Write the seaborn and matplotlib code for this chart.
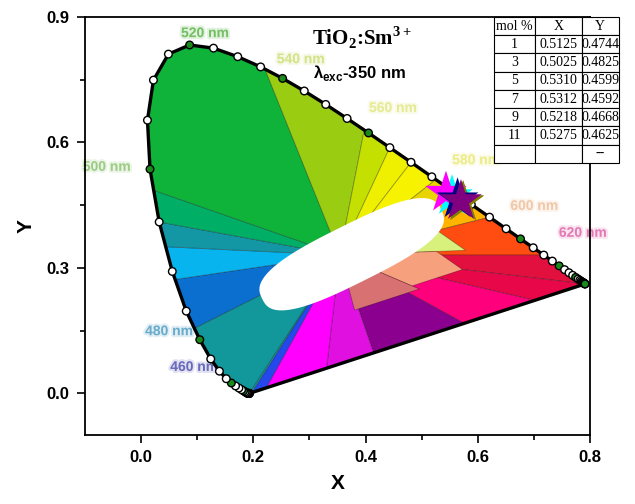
import numpy as np
import pandas as pd
import seaborn as sns
import matplotlib.pyplot as plt
import matplotlib.patheffects as pe
from matplotlib.patches import Polygon
from matplotlib.transforms import ScaledTranslation

# CIE 1931 spectral locus, 380-700 nm in 5 nm steps
wavelengths = np.arange(380, 705, 5)
locus_x = [0.1741, 0.1740, 0.1738, 0.1736, 0.1733, 0.1730, 0.1726, 0.1721, 0.1714, 0.1703,
           0.1689, 0.1669, 0.1644, 0.1611, 0.1566, 0.1510, 0.1440, 0.1355, 0.1241, 0.1096,
           0.0913, 0.0687, 0.0454, 0.0235, 0.0082, 0.0039, 0.0139, 0.0389, 0.0743, 0.1142,
           0.1547, 0.1929, 0.2296, 0.2658, 0.3016, 0.3373, 0.3731, 0.4087, 0.4441, 0.4788,
           0.5125, 0.5448, 0.5752, 0.6029, 0.6270, 0.6482, 0.6658, 0.6801, 0.6915, 0.7006,
           0.7079, 0.7140, 0.7190, 0.7230, 0.7260, 0.7283, 0.7300, 0.7311, 0.7320, 0.7327,
           0.7334, 0.7340, 0.7344, 0.7346, 0.7347]
locus_y = [0.0050, 0.0050, 0.0049, 0.0049, 0.0048, 0.0048, 0.0048, 0.0048, 0.0051, 0.0058,
           0.0069, 0.0086, 0.0109, 0.0138, 0.0177, 0.0227, 0.0297, 0.0399, 0.0578, 0.0868,
           0.1327, 0.2007, 0.2950, 0.4127, 0.5384, 0.6548, 0.7502, 0.8120, 0.8338, 0.8262,
           0.8059, 0.7816, 0.7543, 0.7243, 0.6923, 0.6589, 0.6245, 0.5896, 0.5547, 0.5202,
           0.4866, 0.4544, 0.4242, 0.3965, 0.3725, 0.3514, 0.3340, 0.3197, 0.3083, 0.2993,
           0.2920, 0.2859, 0.2809, 0.2770, 0.2740, 0.2717, 0.2700, 0.2689, 0.2680, 0.2673,
           0.2666, 0.2660, 0.2656, 0.2654, 0.2653]

# samples (table values)
mol = ['1', '3', '5', '7', '9', '11']
cie_x = [0.5125, 0.5025, 0.5310, 0.5312, 0.5218, 0.5275]
cie_y = [0.4744, 0.4825, 0.4599, 0.4592, 0.4668, 0.4625]
star_colors = ['#00ffff', '#ff00ff', '#808000', '#808000', '#000080', '#800080']

# colour sectors, hue h: 380-700 = wavelength, 700-800 = purple line back to 380
fan_center = (0.325, 0.334)
sector_lo = [380, 482, 489, 492.5, 495, 498, 536, 559, 565, 570, 576, 581, 590, 610, 700, 715, 736, 763, 777, 795, 799.3]
sector_hi = [482, 489, 492.5, 495, 498, 536, 559, 565, 570, 576, 581, 590, 610, 700, 715, 736, 763, 777, 795, 799.3, 800]
sector_colors = ['#12979a', '#0a6fcf', '#08b4ee', '#1497a5', '#00ae66', '#0fb33a', '#9acd12', '#c4e000',
                 '#eef000', '#f6f200', '#e8d400', '#ffb400', '#ff4c10', '#e2103e', '#e8084a', '#ff007c',
                 '#8c0090', '#e010e0', '#ff00ff', '#2448ec', '#12979a']
ring_lo = [585, 605, 730]
ring_hi = [605, 730, 765]
ring_frac = [0.65, 0.5, 0.55]
ring_colors = ['#d8f07c', '#f7a07e', '#d87272']

# white centre blob: centre (CIE), half length / half width (inch), tilt (deg)
hole_center = (0.345, 0.336)
hole_size = (1.0, 0.29)
hole_angle = 26.5

# wavelength labels
label_text = ['520 nm', '540 nm', '560 nm', '580 nm', '600 nm', '620 nm', '500 nm', '480 nm', '460 nm']
label_x = [0.100, 0.260, 0.414, 0.553, 0.650, 0.731, -0.064, 0.000, 0.042]
label_y = [0.862, 0.800, 0.684, 0.560, 0.451, 0.387, 0.544, 0.153, 0.068]
label_colors = ['#74c064', '#d4e288', '#e6ea92', '#ecec88', '#f0c8a8', '#e47ab4', '#9ccc84', '#6aaccc', '#6a6abc']

table_rows = [['mol %', 'X', 'Y']] + [[m, f'{a:.4f}', f'{b:.4f}'] for m, a, b in zip(mol, cie_x, cie_y)] + [['', '', '--']]


def edge_point(h):
    if h <= 700:
        return np.interp(h, wavelengths, locus_x), np.interp(h, wavelengths, locus_y)
    t = (h - 700) / 100
    return (locus_x[-1] + t * (locus_x[0] - locus_x[-1]),
            locus_y[-1] + t * (locus_y[0] - locus_y[-1]))


def fan(h0, h1, frac=1.0):
    hs = np.arange(h0, h1, 0.5).tolist() + [h1]
    pts = [fan_center]
    for h in hs:
        ex, ey = edge_point(h)
        pts.append((fan_center[0] + frac * (ex - fan_center[0]),
                    fan_center[1] + frac * (ey - fan_center[1])))
    return pts


sns.set_style('ticks', {'axes.edgecolor': 'black', 'text.color': 'black',
                        'xtick.color': 'black', 'ytick.color': 'black', 'axes.labelcolor': 'black'})
plt.rcParams['font.family'] = ['Liberation Sans', 'DejaVu Sans']

fig = plt.figure(figsize=(6.35, 5.04), dpi=100)
fig.patch.set_facecolor('white')
rect = [85 / 635, 1 - 435 / 504, 505 / 635, 418 / 504]

# diagram layer (the pasted CIE image is slightly stretched against the axes)
axd = fig.add_axes(rect, zorder=0)

for t, lx, ly, c in zip(label_text, label_x, label_y, label_colors):
    ha = 'left' if t in ('480 nm', '460 nm') else 'center'
    axd.text(lx, ly, t, color=c, fontsize=10, fontweight='bold', ha=ha, va='center', zorder=0.5,
             path_effects=[pe.withStroke(linewidth=3, foreground=c, alpha=0.2)])

for h0, h1, c in zip(sector_lo, sector_hi, sector_colors):
    axd.add_patch(Polygon(fan(h0, h1), closed=True, facecolor=c, edgecolor=(0, 0, 0, 0.3), lw=0.6, zorder=1))
for h0, h1, f, c in zip(ring_lo, ring_hi, ring_frac, ring_colors):
    axd.add_patch(Polygon(fan(h0, h1, f), closed=True, facecolor=c, edgecolor=(0, 0, 0, 0.3), lw=0.6, zorder=2))

# white centre (rounded band)
tt = np.linspace(0, 2 * np.pi, 200)
ux = hole_size[0] * np.sign(np.cos(tt)) * np.abs(np.cos(tt)) ** (2 / 2.8)
uy = hole_size[1] * np.sign(np.sin(tt)) * np.abs(np.sin(tt)) ** (2 / 2.8)
ang = np.deg2rad(hole_angle)
hx = ux * np.cos(ang) - uy * np.sin(ang)
hy = ux * np.sin(ang) + uy * np.cos(ang)
axd.add_patch(Polygon(np.column_stack([hx, hy]), closed=True, facecolor='white', edgecolor='none', zorder=3,
                      transform=fig.dpi_scale_trans + ScaledTranslation(*hole_center, axd.transData)))

loop = pd.DataFrame({'x': locus_x + [locus_x[0]], 'y': locus_y + [locus_y[0]]})
sns.lineplot(data=loop, x='x', y='y', sort=False, estimator=None, color='black', lw=2.4, ax=axd, zorder=4)

marks = pd.DataFrame({'x': locus_x, 'y': locus_y,
                      'kind': ['major' if w % 20 == 0 else 'minor' for w in wavelengths]})
sns.scatterplot(data=marks, x='x', y='y', hue='kind', palette={'major': '#1a8a1a', 'minor': 'white'},
                edgecolor='black', linewidth=1, s=30, legend=False, ax=axd, zorder=5)

stars = pd.DataFrame({'x': cie_x, 'y': cie_y, 'mol': mol})
sns.scatterplot(data=stars, x='x', y='y', hue='mol', palette=star_colors, marker='*', s=1000,
                linewidth=0, legend=False, ax=axd, zorder=6)
axd.set_xlim(-0.1004, 0.743)
axd.set_ylim(-0.094, 0.9003)
axd.axis('off')

# main axes on top
ax = fig.add_axes(rect, zorder=1)
ax.patch.set_alpha(0)
ax.set_xlim(-0.1, 0.8)
ax.set_ylim(-0.1, 0.9)
ax.set_xticks([0.0, 0.2, 0.4, 0.6, 0.8])
ax.set_xticks([0.1, 0.3, 0.5, 0.7], minor=True)
ax.set_yticks([0.0, 0.3, 0.6, 0.9])
ax.set_yticks([0.15, 0.45, 0.75], minor=True)
ax.set_xticklabels(['0.0', '0.2', '0.4', '0.6', '0.8'])
ax.set_yticklabels(['0.0', '0.3', '0.6', '0.9'])
ax.tick_params(which='major', direction='out', length=6, width=1.2, labelsize=12, pad=5)
ax.tick_params(which='minor', direction='out', length=3.5, width=1.2)
for lab in ax.get_xticklabels() + ax.get_yticklabels():
    lab.set_fontweight('bold')
for sp in ax.spines.values():
    sp.set_linewidth(1.3)
    sp.set_visible(True)
ax.set_xlabel('X', fontsize=15, fontweight='bold', labelpad=6)
ax.set_ylabel('Y', fontsize=15, fontweight='bold', labelpad=8)

ax.text(0.3045, 0.8335, 'TiO$_\\mathregular{2}$:Sm$^\\mathregular{3+}$', fontsize=15, fontweight='bold',
        family='Liberation Serif', ha='left', va='baseline')
ax.text(0.306, 0.7547, 'λ$_\\mathregular{exc}$-350 nm', fontsize=12, fontweight='bold', ha='left', va='baseline')

tbl = ax.table(cellText=table_rows, cellLoc='center', colWidths=[41, 47, 37],
               bbox=[0.81, 0.651, 0.247, 0.349], zorder=10)
tbl.auto_set_font_size(False)
tbl.set_fontsize(10)
for cell in tbl.get_celld().values():
    cell.set_edgecolor('black')
    cell.set_linewidth(0.8)
    cell.set_facecolor('white')
    cell.get_text().set_fontfamily('Liberation Serif')
    cell.PAD = 0.02
tbl.set_clip_on(False)

fig.savefig('out.png', dpi=100)
